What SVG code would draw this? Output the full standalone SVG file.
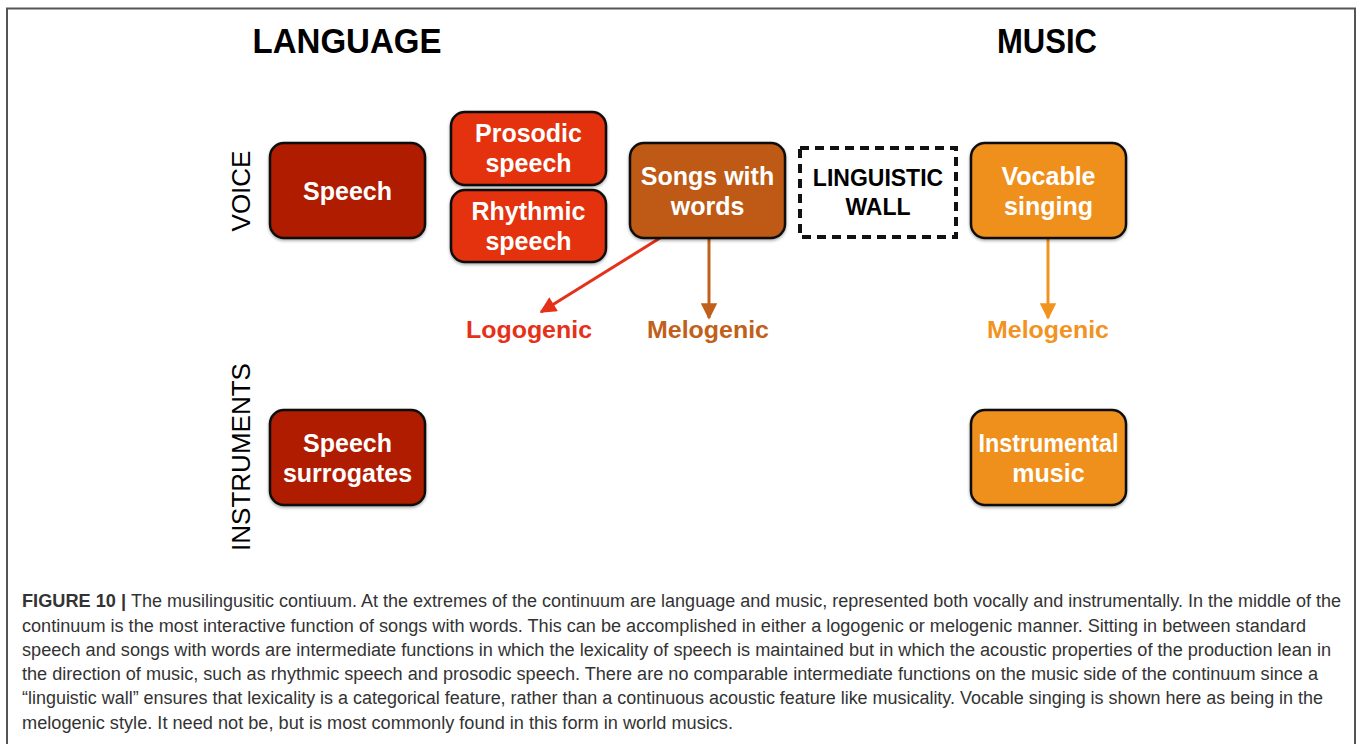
<svg xmlns="http://www.w3.org/2000/svg" width="1357" height="744" viewBox="0 0 1357 744">
<style>
.box{stroke:#111;stroke-width:2.5}
.bt{font-family:"Liberation Sans",Arial,sans-serif;font-weight:bold;font-size:25px;fill:#fff;text-anchor:middle}
.hd{font-family:"Liberation Sans",Arial,sans-serif;font-weight:bold;font-size:35px;fill:#000;text-anchor:middle}
.side{font-family:"Liberation Sans",Arial,sans-serif;font-size:26px;fill:#000;text-anchor:middle}
.lab{font-family:"Liberation Sans",Arial,sans-serif;font-weight:bold;font-size:24px;text-anchor:middle}
.cap{font-family:"Liberation Sans",Arial,sans-serif;font-size:18px;fill:#333}
</style>
<defs>
<filter id="sh" x="-10%" y="-10%" width="120%" height="130%"><feDropShadow dx="0" dy="1.5" stdDeviation="1.5" flood-color="#000" flood-opacity="0.35"/></filter>
<marker id="ar" viewBox="0 0 10 10" refX="9" refY="5" markerWidth="6" markerHeight="5.5" orient="auto" markerUnits="strokeWidth"><path d="M0,0 L10,5 L0,10 Z" fill="#E5301A"/></marker>
<marker id="ab" viewBox="0 0 10 10" refX="9" refY="5" markerWidth="6" markerHeight="5.5" orient="auto" markerUnits="strokeWidth"><path d="M0,0 L10,5 L0,10 Z" fill="#C0601A"/></marker>
<marker id="ao" viewBox="0 0 10 10" refX="9" refY="5" markerWidth="6" markerHeight="5.5" orient="auto" markerUnits="strokeWidth"><path d="M0,0 L10,5 L0,10 Z" fill="#F2931F"/></marker>
</defs>
<rect x="0" y="0" width="1357" height="744" fill="#fff"/>
<path d="M7,746 V8.5 H1355 V746" fill="none" stroke="#555" stroke-width="2"/>

<text class="hd" x="347" y="53" textLength="189" lengthAdjust="spacingAndGlyphs">LANGUAGE</text>
<text class="hd" x="1047" y="53" textLength="100" lengthAdjust="spacingAndGlyphs">MUSIC</text>
<text class="side" transform="translate(250,191) rotate(-90)">VOICE</text>
<text class="side" transform="translate(250,457) rotate(-90)">INSTRUMENTS</text>

<g id="connectors" fill="none" stroke-width="3">
<line x1="660" y1="238" x2="541" y2="312" stroke="#E5301A" marker-end="url(#ar)"/>
<line x1="709" y1="238" x2="709" y2="318" stroke="#C0601A" marker-end="url(#ab)"/>
<line x1="1048" y1="238" x2="1048" y2="318" stroke="#F2931F" marker-end="url(#ao)"/>
</g>

<g id="speech"><rect class="box" x="270" y="143" width="155" height="95" rx="14" fill="#B01A00" filter="url(#sh)"/><text class="bt" x="347.5" y="200">Speech</text></g>
<g id="prosodic"><rect class="box" x="451" y="112" width="155" height="73" rx="14" fill="#E3300F" filter="url(#sh)"/><text class="bt" x="528.5" y="142">Prosodic</text><text class="bt" x="528.5" y="172">speech</text></g>
<g id="rhythmic"><rect class="box" x="451" y="190" width="155" height="72" rx="14" fill="#E3300F" filter="url(#sh)"/><text class="bt" x="528.5" y="220">Rhythmic</text><text class="bt" x="528.5" y="250">speech</text></g>
<g id="songs"><rect class="box" x="630" y="143" width="155" height="95" rx="14" fill="#BE5A12" filter="url(#sh)"/><text class="bt" x="707.5" y="185">Songs with</text><text class="bt" x="707.5" y="215">words</text></g>
<g id="wall"><rect x="800" y="148" width="156" height="89" fill="#fff" stroke="#111" stroke-width="4" stroke-dasharray="9,6"/><text class="bt" style="fill:#000;font-size:23px" x="878" y="186">LINGUISTIC</text><text class="bt" style="fill:#000;font-size:23px" x="878" y="215">WALL</text></g>
<g id="vocable"><rect class="box" x="971" y="143" width="155" height="95" rx="14" fill="#F0901E" filter="url(#sh)"/><text class="bt" x="1048.5" y="185">Vocable</text><text class="bt" x="1048.5" y="215">singing</text></g>
<g id="surrogates"><rect class="box" x="270" y="410" width="155" height="95" rx="14" fill="#B01A00" filter="url(#sh)"/><text class="bt" x="347.5" y="452">Speech</text><text class="bt" x="347.5" y="482">surrogates</text></g>
<g id="instrumental"><rect class="box" x="971" y="410" width="155" height="95" rx="14" fill="#F0901E" filter="url(#sh)"/><text class="bt" x="1048.5" y="452" textLength="140" lengthAdjust="spacingAndGlyphs">Instrumental</text><text class="bt" x="1048.5" y="482">music</text></g>

<g id="logogenic"><text class="lab" x="529" y="338" fill="#E5301A" textLength="126" lengthAdjust="spacingAndGlyphs">Logogenic</text></g>
<g id="melogenic1"><text class="lab" x="708" y="338" fill="#C0601A" textLength="122" lengthAdjust="spacingAndGlyphs">Melogenic</text></g>
<g id="melogenic2"><text class="lab" x="1048" y="338" fill="#F2931F" textLength="122" lengthAdjust="spacingAndGlyphs">Melogenic</text></g>

<g id="caption">
<text class="cap" x="22" y="607" font-weight="bold" fill="#222" textLength="104" lengthAdjust="spacingAndGlyphs">FIGURE 10 |</text>
<text class="cap" x="131" y="607" textLength="1210" lengthAdjust="spacingAndGlyphs">The musilingusitic contiuum. At the extremes of the continuum are language and music, represented both vocally and instrumentally. In the middle of the</text>
<text class="cap" x="22" y="632" textLength="1284" lengthAdjust="spacingAndGlyphs">continuum is the most interactive function of songs with words. This can be accomplished in either a logogenic or melogenic manner. Sitting in between standard</text>
<text class="cap" x="22" y="656" textLength="1309" lengthAdjust="spacingAndGlyphs">speech and songs with words are intermediate functions in which the lexicality of speech is maintained but in which the acoustic properties of the production lean in</text>
<text class="cap" x="22" y="680" textLength="1296" lengthAdjust="spacingAndGlyphs">the direction of music, such as rhythmic speech and prosodic speech. There are no comparable intermediate functions on the music side of the continuum since a</text>
<text class="cap" x="22" y="704" textLength="1301" lengthAdjust="spacingAndGlyphs">“linguistic wall” ensures that lexicality is a categorical feature, rather than a continuous acoustic feature like musicality. Vocable singing is shown here as being in the</text>
<text class="cap" x="22" y="729" textLength="711" lengthAdjust="spacingAndGlyphs">melogenic style. It need not be, but is most commonly found in this form in world musics.</text>
</g>
</svg>
